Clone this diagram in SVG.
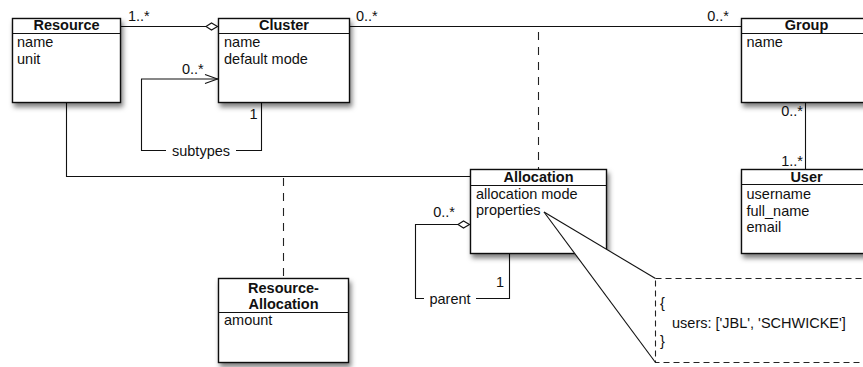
<svg xmlns="http://www.w3.org/2000/svg" width="863" height="367" viewBox="0 0 863 367">
<style>
text{font-family:"Liberation Sans",Arial,Helvetica,sans-serif;font-size:14.5px;fill:#111}
.t{font-weight:bold;text-anchor:middle}
.box{fill:#fff;stroke:#111;stroke-width:1.4}
.sep{stroke:#111;stroke-width:1.2}
.ln{fill:none;stroke:#111;stroke-width:1.1}
.dash{fill:none;stroke:#222;stroke-width:1.1;stroke-dasharray:8 7}
.note{fill:#fff;stroke:#222;stroke-width:1.1;stroke-dasharray:6 4}
.r{text-anchor:end}
</style>
<defs>
<filter id="sh" x="-10%" y="-10%" width="130%" height="135%">
<feDropShadow dx="2" dy="4" stdDeviation="2.5" flood-color="#000" flood-opacity="0.5"/>
</filter>
</defs>
<g id="connectors">
<!-- Resource - Cluster aggregation -->
<line class="ln" x1="121" y1="26.5" x2="206" y2="26.5"/>
<polygon points="206,26.5 211.5,23 217.5,26.5 211.5,30" fill="#fff" stroke="#111" stroke-width="1.1"/>
<text x="128" y="21">1..*</text>
<!-- Cluster - Group -->
<line class="ln" x1="349.5" y1="26.5" x2="741.5" y2="26.5"/>
<text x="356" y="21">0..*</text>
<text x="729" y="21" class="r">0..*</text>
<!-- association class dashed to Allocation -->
<line class="dash" x1="538.5" y1="32" x2="538.5" y2="169.5"/>
<!-- subtypes self loop -->
<polyline class="ln" points="218,79 141.5,79 141.5,150.5 166,150.5"/>
<polyline class="ln" points="236,150.5 261.5,150.5 261.5,102.5"/>
<polyline class="ln" points="205,74.5 217.5,79 205,83.5"/>
<text x="182" y="74">0..*</text>
<text x="257.5" y="119" class="r">1</text>
<text x="201" y="155.5" text-anchor="middle">subtypes</text>
<!-- Resource - Allocation -->
<polyline class="ln" points="66.5,102.5 66.5,176.5 470.5,176.5"/>
<line class="dash" x1="283.5" y1="178" x2="283.5" y2="278.5"/>
<!-- Group - User -->
<line class="ln" x1="805.5" y1="102.5" x2="805.5" y2="169.5"/>
<text x="803" y="115.5" class="r">0..*</text>
<text x="803" y="166" class="r">1..*</text>
<!-- parent self loop -->
<polyline class="ln" points="458,224.5 415.5,224.5 415.5,298.5 424,298.5"/>
<polyline class="ln" points="476,298.5 509.5,298.5 509.5,253.5"/>
<polygon points="458,224.5 463.5,221 469.5,224.5 463.5,228" fill="#fff" stroke="#111" stroke-width="1.1"/>
<text x="455" y="216.5" class="r">0..*</text>
<text x="504" y="287" class="r">1</text>
<text x="450" y="303.5" text-anchor="middle">parent</text>
</g>
<g id="Resource">
<rect class="box" x="12.5" y="18.5" width="108" height="84" filter="url(#sh)"/>
<line class="sep" x1="12.5" y1="33.5" x2="120.5" y2="33.5"/>
<text class="t" x="66.5" y="30">Resource</text>
<text x="17" y="47">name</text>
<text x="17" y="63.5">unit</text>
</g>
<g id="Cluster">
<rect class="box" x="218.5" y="18.5" width="131" height="84" filter="url(#sh)"/>
<line class="sep" x1="218.5" y1="33.5" x2="349.5" y2="33.5"/>
<text class="t" x="284" y="30">Cluster</text>
<text x="224" y="47">name</text>
<text x="224" y="63.5">default mode</text>
</g>
<g id="Group">
<rect class="box" x="741.5" y="18.5" width="130" height="84" filter="url(#sh)"/>
<line class="sep" x1="741.5" y1="33.5" x2="871.5" y2="33.5"/>
<text class="t" x="806.5" y="30">Group</text>
<text x="746.5" y="47">name</text>
</g>
<g id="Allocation">
<rect class="box" x="470.5" y="169.5" width="136" height="84" filter="url(#sh)"/>
<line class="sep" x1="470.5" y1="185.5" x2="606.5" y2="185.5"/>
<text class="t" x="538.5" y="182">Allocation</text>
<text x="476" y="198.5">allocation mode</text>
<text x="476" y="215">properties</text>
</g>
<g id="User">
<rect class="box" x="741.5" y="169.5" width="130" height="84" filter="url(#sh)"/>
<line class="sep" x1="741.5" y1="184.5" x2="871.5" y2="184.5"/>
<text class="t" x="806.5" y="181.5">User</text>
<text x="746.5" y="199">username</text>
<text x="746.5" y="215.5">full_name</text>
<text x="746.5" y="232">email</text>
</g>
<g id="ResourceAllocation">
<rect class="box" x="218.5" y="278.5" width="130" height="84" filter="url(#sh)"/>
<line class="sep" x1="218.5" y1="312.5" x2="348.5" y2="312.5"/>
<text class="t" x="283.5" y="292.5">Resource-</text>
<text class="t" x="283.5" y="309">Allocation</text>
<text x="224" y="325">amount</text>
</g>
<g id="Note">
<polygon points="544,212 655.5,278.5 655.5,362.5" fill="#fff" stroke="none"/>
<line class="ln" x1="544" y1="212" x2="655.5" y2="278.5"/>
<line class="ln" x1="544" y1="212" x2="655.5" y2="362.5"/>
<rect class="note" x="655.5" y="278.5" width="230" height="84"/>
<text x="660" y="308">{</text>
<text x="672" y="327.5">users: ['JBL', 'SCHWICKE']</text>
<text x="660" y="346">}</text>
</g>
</svg>
